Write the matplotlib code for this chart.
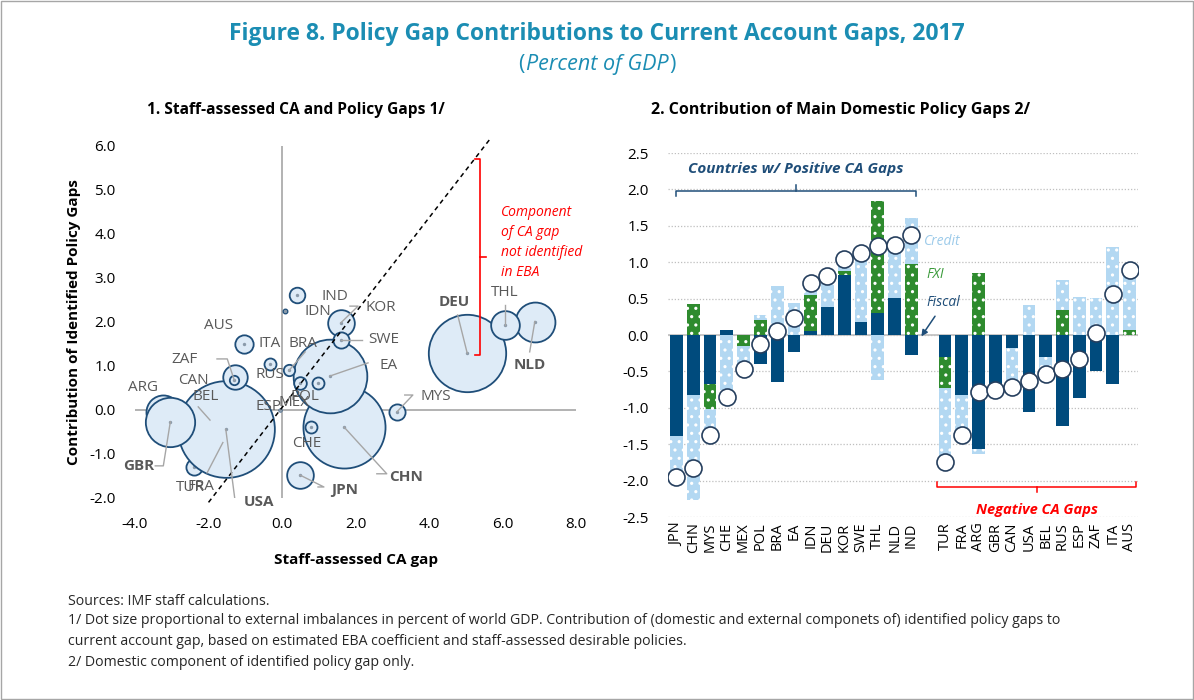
import matplotlib
matplotlib.use("Agg")
import matplotlib.pyplot as plt
from matplotlib.patches import Rectangle
import numpy as np

plt.rcParams["font.family"] = ["Open Sans", "DejaVu Sans"]
plt.rcParams["hatch.linewidth"] = 1.1

# ---- panel 1: staff-assessed CA gap vs contribution of identified policy gaps
BUBBLE_COUNTRIES = ["BEL", "FRA", "AUS", "ARG", "TUR", "USA", "CHN", "DEU", "EA", "GBR",
                    "NLD", "THL", "KOR", "JPN", "CAN", "ITA", "MYS", "SWE", "IND", "MEX",
                    "RUS", "POL", "CHE", "BRA", "ZAF", "IDN", "ESP"]
CA_GAP = [-1.96, -1.61, -1.03, -3.23, -2.39, -1.53, 1.69, 5.04, 1.30, -3.04,
          6.88, 6.06, 1.60, 0.49, -1.28, -1.03, 3.13, 1.60, 0.40, 0.49,
          -0.33, 0.99, 0.79, 0.19, -1.30, 0.08, -0.05]
POLICY_GAP = [-0.23, -0.74, 1.50, -0.05, -1.30, -0.44, -0.39, 1.29, 0.77, -0.27,
              2.01, 1.92, 1.98, -1.48, 0.76, 1.50, -0.04, 1.59, 2.61, 0.61,
              1.04, 0.61, -0.38, 0.90, 0.68, 2.25, 0.00]
IMBALANCE = [0.005, 0.008, 0.003, 0.062, 0.014, 0.50, 0.36, 0.32, 0.29, 0.13,
             0.085, 0.044, 0.038, 0.038, 0.032, 0.018, 0.014, 0.014, 0.013, 0.0085,
             0.0077, 0.0077, 0.0077, 0.0069, 0.0047, 0.0009, 0.0003]
BOLD_LABELS = {"GBR", "USA", "JPN", "CHN", "DEU", "NLD"}

# label position and optional leader-line waypoints (data coords of panel 1)
LABELS = {
    "ARG": ((-3.78, 0.50), None),
    "GBR": ((-3.91, -1.27), [(-3.45, -1.27), (-3.23, -1.27)]),
    "TUR": ((-2.50, -1.77), None),
    "FRA": ((-2.20, -1.73), [(-2.04, -1.43)]),
    "USA": ((-0.63, -2.09), [(-1.53, -2.05), (-1.28, -2.05)]),
    "BEL": ((-2.09, 0.30), [(-2.28, 0.07)]),
    "CAN": ((-2.42, 0.68), None),
    "ZAF": ((-2.66, 1.14), [(-1.77, 1.16), (-1.49, 1.16)]),
    "AUS": ((-1.74, 1.91), None),
    "ITA": ((-0.33, 1.50), None),
    "RUS": ((-0.33, 0.80), None),
    "ESP": ((-0.38, 0.07), None),
    "MEX": ((0.33, 0.18), None),
    "POL": ((0.63, 0.30), None),
    "BRA": ((0.57, 1.52), [(0.63, 1.32)]),
    "CHE": ((0.68, -0.77), None),
    "JPN": ((1.71, -1.82), [(0.98, -1.75), (1.14, -1.75)]),
    "CHN": ((3.37, -1.52), [(2.58, -1.45), (2.85, -1.45)]),
    "MYS": ((4.18, 0.30), [(3.34, 0.34), (3.56, 0.34)]),
    "EA": ((2.91, 1.02), [(2.34, 1.07)]),
    "SWE": ((2.77, 1.61), [(2.17, 1.59)]),
    "KOR": ((2.69, 2.34), [(1.85, 2.36), (2.07, 2.36)]),
    "IND": ((1.44, 2.57), None),
    "IDN": ((0.98, 2.23), None),
    "DEU": ((4.70, 2.45), [(4.78, 2.16)]),
    "THL": ((6.06, 2.66), [(6.06, 2.39)]),
    "NLD": ((6.74, 1.02), [(6.74, 1.32)]),
}

# ---- panel 2: contribution of main domestic policy gaps
BAR_COUNTRIES = ["JPN", "CHN", "MYS", "CHE", "MEX", "POL", "BRA", "EA", "IDN", "DEU",
                 "KOR", "SWE", "THL", "NLD", "IND", "",
                 "TUR", "FRA", "ARG", "GBR", "CAN", "USA", "BEL", "RUS", "ESP", "ZAF",
                 "ITA", "AUS"]
FISCAL = [-1.39, -0.83, -0.67, 0.07, 0.00, -0.40, -0.64, -0.23, 0.05, 0.38,
          0.82, 0.18, 0.30, 0.51, -0.27, 0.0,
          -0.30, -0.83, -1.56, -0.73, -0.18, -1.06, -0.30, -1.25, -0.87, -0.50,
          -0.67, 0.00]
FXI = [0.00, 0.43, -0.35, 0.00, -0.15, 0.21, 0.00, 0.00, 0.50, 0.00,
       0.06, 0.00, 1.54, 0.00, 0.97, 0.0,
       -0.43, 0.00, 0.85, 0.00, 0.00, 0.00, 0.00, 0.34, 0.00, 0.00,
       0.00, 0.065]
CREDIT = [-0.57, -1.44, -0.35, -0.93, -0.31, 0.065, 0.68, 0.445, 0.17, 0.43,
          0.16, 0.94, -0.62, 0.73, 0.64, 0.0,
          -1.02, -0.55, -0.08, 0.00, -0.53, 0.41, -0.23, 0.42, 0.52, 0.51,
          1.21, 0.82]
TOTAL = [-1.95, -1.83, -1.37, -0.85, -0.46, -0.12, 0.06, 0.23, 0.72, 0.81,
         1.04, 1.12, 1.22, 1.24, 1.37, np.nan,
         -1.75, -1.38, -0.78, -0.76, -0.71, -0.63, -0.53, -0.47, -0.33, 0.03,
         0.56, 0.90]

TEAL = "#1B8DB3"
NAVY = "#1F4E79"
GREY_TXT = "#595959"
C_FISCAL = "#004B7D"
C_FXI = "#2E8B2E"
C_CREDIT = "#B3D8F2"

fig = plt.figure(figsize=(11.94, 7.0), dpi=100)
fig.patches.append(Rectangle((0.001, 0.002), 0.998, 0.996, transform=fig.transFigure,
                             fill=False, edgecolor="#A6A6A6", linewidth=1))

# titles
fig.text(0.5, 0.952, "Figure 8. Policy Gap Contributions to Current Account Gaps, 2017",
         ha="center", va="center", color=TEAL, fontsize=16.5, fontweight="bold")
sub = fig.text(0.5, 0.908, "Percent of GDP", ha="center", va="center", color=TEAL,
               fontsize=15.5, style="italic")
fig.canvas.draw()
bb = sub.get_window_extent().transformed(fig.transFigure.inverted())
fig.text(bb.x0 - 0.001, 0.908, "(", ha="right", va="center", color=TEAL, fontsize=15.5)
fig.text(bb.x1 + 0.001, 0.908, ")", ha="left", va="center", color=TEAL, fontsize=15.5)

fig.text(0.123, 0.843, "1. Staff-assessed CA and Policy Gaps 1/", ha="left", va="center",
         fontsize=11.2, fontweight="bold")
fig.text(0.545, 0.843, "2. Contribution of Main Domestic Policy Gaps 2/", ha="left",
         va="center", fontsize=11.5, fontweight="bold")

# ---------------- panel 1
ax1 = fig.add_axes([0.1131, 0.2886, 0.3693, 0.5029])
ax1.set_xlim(-4, 8)
ax1.set_ylim(-2, 6)
for s in ax1.spines.values():
    s.set_visible(False)
ax1.axhline(0, color="#A6A6A6", lw=1.2, zorder=1)
ax1.axvline(0, color="#A6A6A6", lw=1.2, zorder=1)
ax1.set_xticks(np.arange(-4, 9, 2))
ax1.set_yticks(np.arange(-2, 7, 1))
ax1.xaxis.set_major_formatter(lambda v, p: f"{v:.1f}")
ax1.yaxis.set_major_formatter(lambda v, p: f"{v:.1f}")
ax1.tick_params(length=0, labelsize=11, pad=14)
ax1.set_xlabel("Staff-assessed CA gap", fontsize=11, fontweight="bold", labelpad=15)
ax1.set_ylabel("Contribution of Identified Policy Gaps", fontsize=11, fontweight="bold",
               labelpad=6)

# reference line
ax1.plot([-2.0, 5.7], [-2.1, 6.2], ls=(0, (3, 2.5)), color="black", lw=1.1, zorder=4,
         clip_on=False)

for i, c in enumerate(BUBBLE_COUNTRIES):
    ax1.scatter(CA_GAP[i], POLICY_GAP[i], s=IMBALANCE[i] * 9700, facecolor="#DEEBF7",
                edgecolor=NAVY, linewidth=1.3, zorder=3)
    ax1.scatter(CA_GAP[i], POLICY_GAP[i], s=6, color="#8A9AAA", lw=0, zorder=3)

for i, c in enumerate(BUBBLE_COUNTRIES):
    (lx, ly), pts = LABELS[c]
    if pts:
        xs = [p[0] for p in pts] + [CA_GAP[i]]
        ys = [p[1] for p in pts] + [POLICY_GAP[i]]
        ax1.plot(xs, ys, color="#A6A6A6", lw=1, zorder=5)
    ax1.text(lx, ly, c, ha="center", va="center", fontsize=11, color=GREY_TXT,
             fontweight="bold" if c in BOLD_LABELS else "normal", zorder=6)

# red bracket
ax1.plot([5.25, 5.38, 5.38, 5.25], [5.70, 5.70, 1.25, 1.25], color="red", lw=1.2, zorder=5)
ax1.plot([5.38, 5.55], [3.48, 3.48], color="red", lw=1.2, zorder=5)
ax1.text(5.95, 3.80, "Component\nof CA gap\nnot identified\nin EBA", ha="left", va="center",
         color="red", style="italic", fontsize=10, linespacing=1.45)

# ---------------- panel 2
ax2 = fig.add_axes([0.5595, 0.2614, 0.3936, 0.52])
x = np.arange(len(BAR_COUNTRIES))
pos_base = np.zeros(len(x))
neg_base = np.zeros(len(x))
w = 0.76
for vals, col, hatch in [(FISCAL, C_FISCAL, None), (FXI, C_FXI, ".."),
                         (CREDIT, C_CREDIT, "..")]:
    v = np.array(vals, dtype=float)
    bottom = np.where(v >= 0, pos_base, neg_base)
    ax2.bar(x, v, w, bottom=bottom, color=col, edgecolor="white", linewidth=0,
            hatch=hatch, zorder=3)
    pos_base += np.where(v > 0, v, 0)
    neg_base += np.where(v < 0, v, 0)

ax2.scatter(x, TOTAL, s=150, facecolor="white", edgecolor="#263F5E", linewidth=1.2,
            zorder=5)
ax2.set_xlim(-0.5, len(x) - 0.5)
ax2.set_ylim(-2.5, 2.5)
ax2.set_yticks(np.arange(-2.5, 2.6, 0.5))
ax2.yaxis.set_major_formatter(lambda v, p: f"{v:.1f}")
ax2.set_xticks(x)
ax2.set_xticklabels(BAR_COUNTRIES, rotation=90)
ax2.tick_params(axis="y", length=0, labelsize=11, pad=14)
ax2.tick_params(axis="x", length=0, labelsize=10.5, pad=4)
for s in ax2.spines.values():
    s.set_visible(False)
ax2.grid(axis="y", ls=(0, (1, 1.5)), color="#BFBFBF", lw=0.9, zorder=0)
ax2.axhline(0, color="#BFBFBF", lw=1.2, zorder=2)

# brackets
ax2.plot([-0.05, -0.05, 14.3, 14.3], [1.91, 1.98, 1.98, 1.91], color=NAVY, lw=1.1,
         clip_on=False)
ax2.plot([7.12, 7.12], [1.98, 2.06], color=NAVY, lw=1.1)
ax2.text(7.12, 2.28, "Countries w/ Positive CA Gaps", ha="center", va="center",
         color=NAVY, style="italic", fontweight="bold", fontsize=11)
ax2.plot([15.52, 15.52, 27.4, 27.4], [-2.02, -2.09, -2.09, -2.02], color="red", lw=1.1,
         clip_on=False)
ax2.plot([21.47, 21.47], [-2.09, -2.16], color="red", lw=1.1)
ax2.text(21.47, -2.41, "Negative CA Gaps", ha="center", va="center", color="red",
         style="italic", fontweight="bold", fontsize=10.5)

ax2.text(14.76, 1.28, "Credit", ha="left", va="center", color="#9DCBEA", style="italic",
         fontsize=10)
ax2.text(14.9, 0.83, "FXI", ha="left", va="center", color="#3A9A3A", style="italic",
         fontsize=10)
ax2.text(14.9, 0.44, "Fiscal", ha="left", va="center", color=NAVY, style="italic",
         fontsize=10)
ax2.annotate("", xy=(14.5, -0.05), xytext=(15.5, 0.29),
             arrowprops=dict(arrowstyle="-|>", color=NAVY, lw=1.1, mutation_scale=9))

# footnotes
notes = [
    (0.141, "Sources: IMF staff calculations."),
    (0.113, "1/ Dot size proportional to external imbalances in percent of world GDP. "
            "Contribution of (domestic and external componets of) identified policy gaps to"),
    (0.084, "current account gap, based on estimated EBA coefficient and staff-assessed "
            "desirable policies."),
    (0.053, "2/ Domestic component of identified policy gap only."),
]
for y, t in notes:
    fig.text(0.057, y, t, ha="left", va="center", fontsize=10.2, color="#262626")

fig.savefig("out.png", dpi=100)
